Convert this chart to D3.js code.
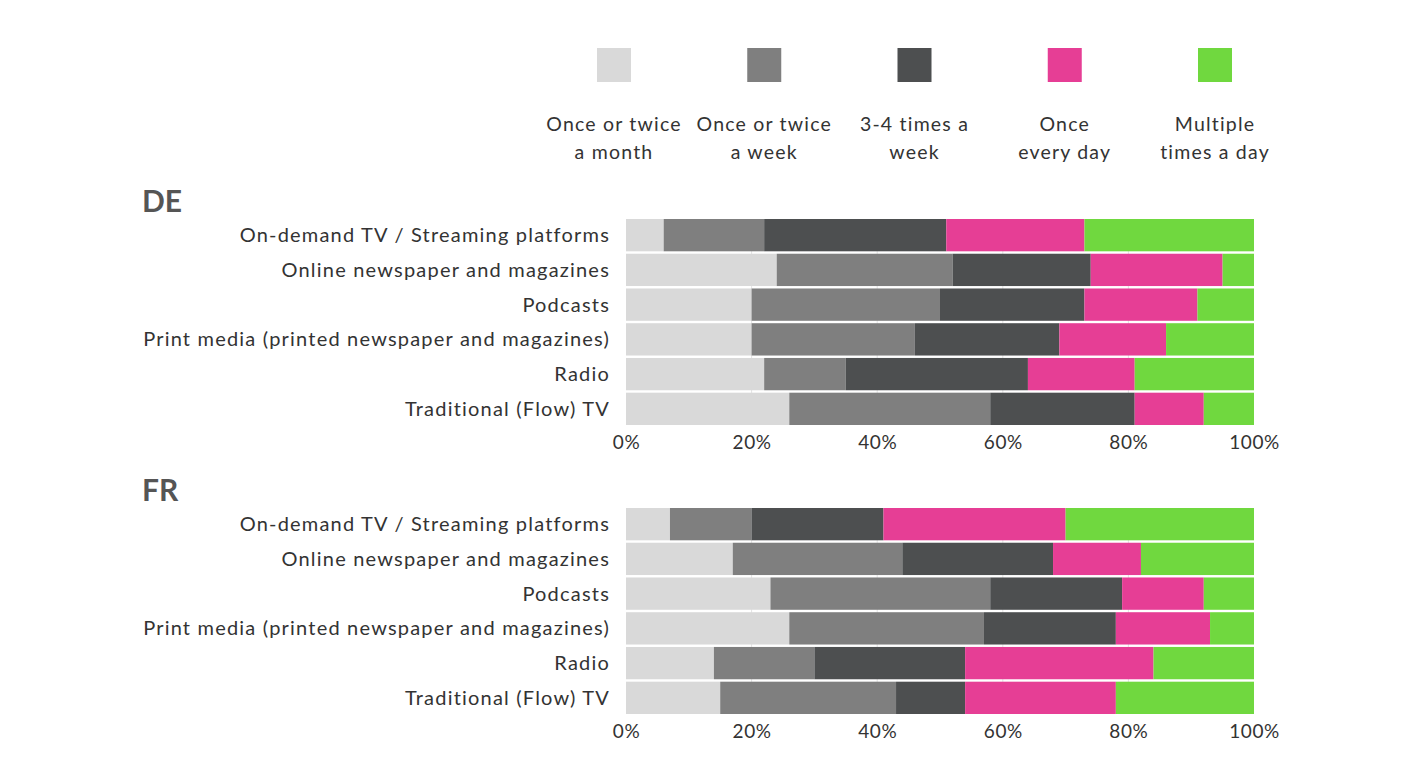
<!DOCTYPE html>
<html lang="en">
<head>
    <meta charset="UTF-8">
    <title>Media usage frequency DE / FR</title>
    <script src="https://d3js.org/d3.v7.min.js"></script>
    <style>
        body { margin: 0; background: #fff; }
        text { font-family: "Lato", "Noto Sans", sans-serif; fill: #333; }
        .label { font-size: 20px; font-weight: 400; letter-spacing: 1.2px; }
        .tick text { font-size: 19px; font-weight: 400; fill: #333; letter-spacing: 0.6px; }
        .panel-title { font-size: 30px; font-weight: 700; fill: #555; }
    </style>
</head>
<body>
    <div id="chart"></div>
    <script>
        // Categories (rows) and frequency groups (stack keys)
        const media = [
            "On-demand TV / Streaming platforms",
            "Online newspaper and magazines",
            "Podcasts",
            "Print media (printed newspaper and magazines)",
            "Radio",
            "Traditional (Flow) TV"
        ];
        const frequencies = [
            "Once or twice a month",
            "Once or twice a week",
            "3-4 times a week",
            "Once every day",
            "Multiple times a day"
        ];
        const legendLines = [
            ["Once or twice", "a month"],
            ["Once or twice", "a week"],
            ["3-4 times a", "week"],
            ["Once", "every day"],
            ["Multiple", "times a day"]
        ];
        const colors = ["#d9d9d9", "#7f7f7f", "#4d4f50", "#e63e95", "#70d83f"];

        // Percent shares per medium, in frequency order
        const deValues = [
            [6, 16, 29, 22, 27],
            [24, 28, 22, 21, 5],
            [20, 30, 23, 18, 9],
            [20, 26, 23, 17, 14],
            [22, 13, 29, 17, 19],
            [26, 32, 23, 11, 8]
        ];
        const frValues = [
            [7, 13, 21, 29, 30],
            [17, 27, 24, 14, 18],
            [23, 35, 21, 13, 8],
            [26, 31, 21, 15, 7],
            [14, 16, 24, 30, 16],
            [15, 28, 11, 24, 22]
        ];
        const tickValues = [0, 20, 40, 60, 80, 100];

        const width = 1414, height = 761;
        const svg = d3.select("#chart").append("svg")
            .attr("width", width)
            .attr("height", height);

        const x = d3.scaleLinear().domain([0, 100]).range([626, 1254]);

        // Legend
        const legendX = d3.scalePoint().domain(frequencies).range([614, 1215]);
        const legend = svg.append("g").selectAll("g")
            .data(frequencies)
            .join("g")
            .attr("transform", d => `translate(${legendX(d)},0)`);
        legend.append("rect")
            .attr("x", -17).attr("y", 48)
            .attr("width", 34).attr("height", 34)
            .attr("fill", (d, i) => colors[i]);
        legend.append("text")
            .attr("class", "label")
            .attr("text-anchor", "middle")
            .style("font-size", "19.5px")
            .selectAll("tspan")
            .data((d, i) => legendLines[i])
            .join("tspan")
            .attr("x", 0)
            .attr("y", (d, j) => 131 + j * 28)
            .text(d => d);

        function drawPanel(title, values, top) {
            const g = svg.append("g");
            const y = d3.scaleBand().domain(media).range([top, top + 206]).paddingInner(0.07);

            const rows = media.map((m, i) => {
                const r = { medium: m };
                frequencies.forEach((f, j) => r[f] = values[i][j]);
                return r;
            });
            const series = d3.stack().keys(frequencies)(rows);

            // faint gridlines
            g.append("g").selectAll("line")
                .data(tickValues.slice(1, -1))
                .join("line")
                .attr("x1", d => x(d)).attr("x2", d => x(d))
                .attr("y1", top).attr("y2", top + 206)
                .attr("stroke", "#e4e4e4");

            g.append("g").selectAll("g")
                .data(series)
                .join("g")
                .attr("fill", (d, i) => colors[i])
                .selectAll("rect")
                .data(d => d)
                .join("rect")
                .attr("x", d => x(d[0]))
                .attr("y", d => y(d.data.medium))
                .attr("width", d => x(d[1]) - x(d[0]))
                .attr("height", y.bandwidth());

            g.selectAll(".label.row")
                .data(media)
                .join("text")
                .attr("class", "label row")
                .attr("x", 610)
                .attr("y", d => y(d) + y.bandwidth() / 2)
                .attr("dy", "0.35em")
                .attr("text-anchor", "end")
                .text(d => d);

            const axis = g.append("g")
                .attr("transform", `translate(0,${top + 206})`)
                .call(d3.axisBottom(x).tickValues(tickValues).tickSize(0).tickPadding(11).tickFormat(d => d + "%"));
            axis.select(".domain").remove();

            g.append("text")
                .attr("class", "panel-title")
                .attr("x", 142)
                .attr("y", top - 7)
                .text(title);
        }

        drawPanel("DE", deValues, 219);
        drawPanel("FR", frValues, 508);
    </script>
</body>
</html>
